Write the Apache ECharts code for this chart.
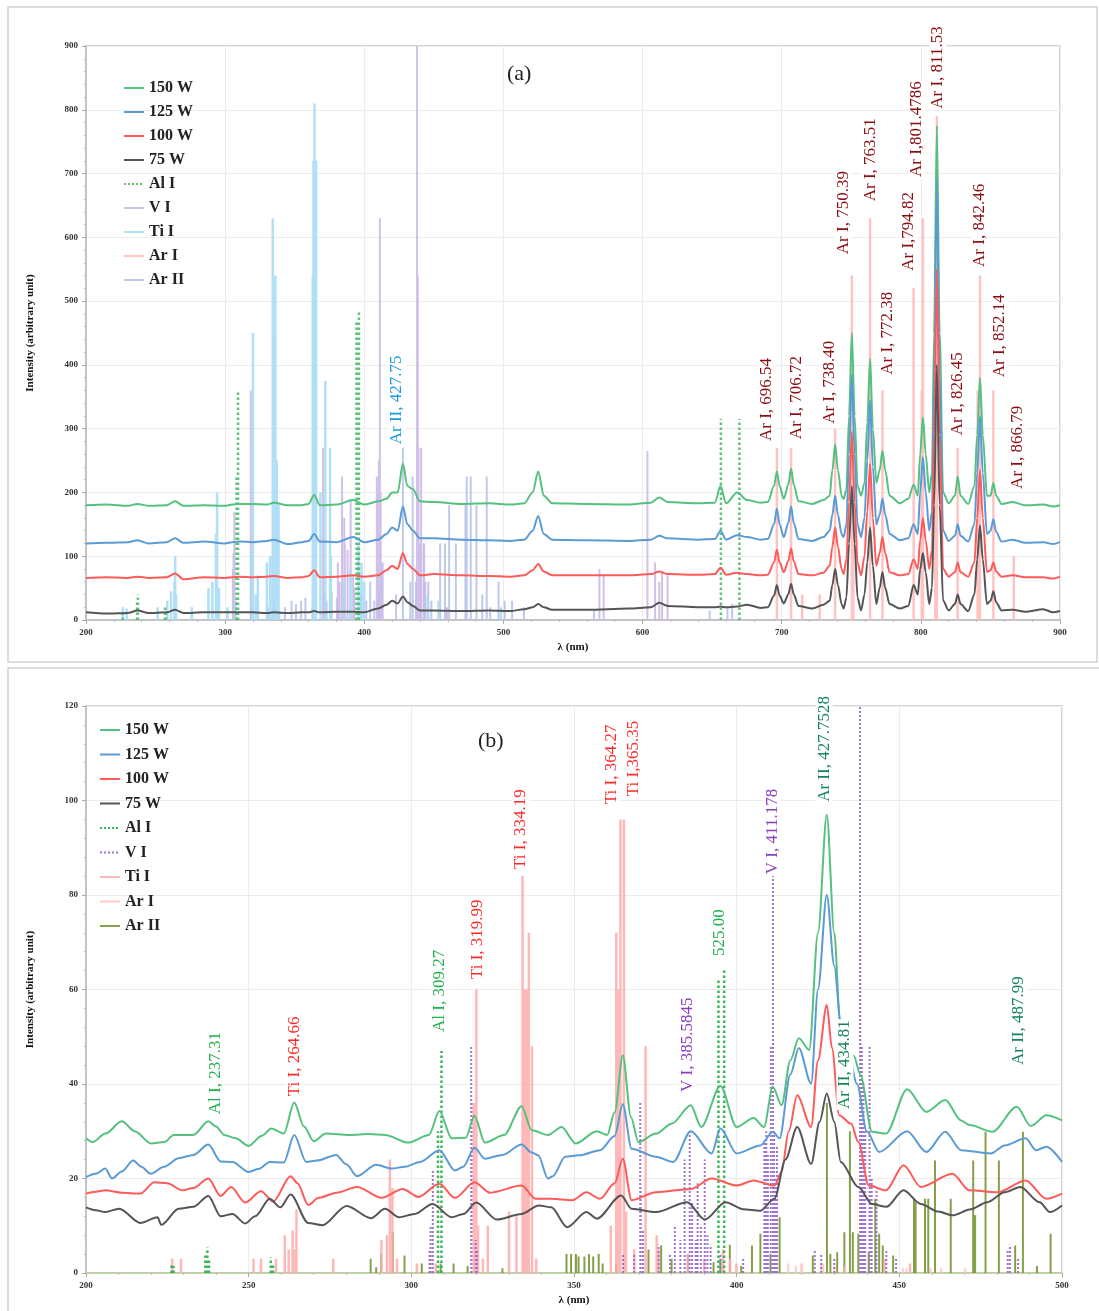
<!DOCTYPE html>
<html lang="en">
<head>
  <meta charset="UTF-8">
  <title>OES spectra</title>
  <style>
    body{ margin:0; background:#fff; }
    #main{ width:1099px; height:1311px; }
  </style>
</head>
<body>
  <div id="main"></div>
  <script src="https://cdn.jsdelivr.net/npm/echarts/dist/echarts.min.js"></script>
  <script>
// ---------- panel (a): 200-900 nm ----------
const wlA = [
  200, 215, 230, 237, 245, 258, 264, 270, 285, 300,
  305, 310, 320, 330, 335, 345, 355, 360, 364, 368,
  380, 392, 400, 410, 416, 420, 424, 427.75, 431, 435,
  440, 450, 470, 490, 505, 515, 521, 525, 529, 535,
  560, 590, 606, 612, 618, 640, 652, 656, 660, 668,
  675, 685, 690, 694.5, 696.5, 698.5, 701.5, 704.7, 706.7, 708.7,
  712, 722, 730, 734.5, 736.4, 738.4, 740.4, 743, 744.5, 746.5,
  748.4, 750.4, 752.4, 754.5, 757, 759.5, 761.5, 763.5, 765.5, 768,
  770.4, 772.4, 774.4, 777.5, 785, 791, 794.8, 797.8, 799.5, 801.5,
  803.5, 806, 808, 809.5, 811.5, 813.5, 816, 820, 824.5, 826.5,
  828.5, 834, 838.5, 840.5, 842.5, 844.5, 847.5, 850.1, 852.1, 854.1,
  858, 866, 875, 888, 895, 900
];
const a150 = [
  180, 181, 179, 182, 179, 180, 186, 179, 180, 179,
  181, 182, 182, 181, 184, 180, 180, 182, 196, 180,
  181, 188, 181, 186, 190, 200, 200, 245, 210, 205,
  186, 185, 182, 183, 181, 183, 200, 233, 195, 183,
  182, 181, 184, 192, 185, 183, 184, 210, 183, 200,
  188, 184, 185, 210, 233, 210, 190, 212, 237, 212,
  186, 182, 188, 195, 235, 275, 235, 195, 190, 205,
  320, 450, 320, 210, 195, 215, 310, 410, 300, 215,
  235, 265, 235, 195, 183, 190, 212, 195, 260, 318,
  260, 200, 230, 450, 775, 450, 200, 183, 195, 225,
  195, 182, 210, 290, 380, 290, 195, 195, 215, 195,
  182, 185, 180, 181, 178, 180
];
const a125 = [
  120, 121, 122, 125, 120, 122, 128, 121, 123, 120,
  122, 123, 122, 124, 126, 119, 122, 124, 135, 123,
  122, 130, 122, 126, 135, 145, 140, 178, 150, 140,
  128, 128, 126, 125, 124, 126, 140, 163, 135, 126,
  125, 124, 126, 132, 128, 126, 127, 140, 126, 133,
  130, 126, 127, 150, 175, 150, 130, 152, 178, 152,
  127, 124, 130, 140, 165, 195, 165, 135, 130, 150,
  260, 385, 260, 150, 130, 160, 250, 345, 240, 150,
  165, 190, 165, 135, 125, 128, 150, 135, 200, 255,
  200, 140, 170, 380, 690, 380, 140, 124, 132, 150,
  132, 123, 150, 230, 320, 230, 135, 140, 158, 138,
  123, 126, 121, 122, 119, 122
];
const a100 = [
  66, 67, 66, 68, 66, 67, 73, 64, 67, 66,
  67, 68, 67, 68, 69, 66, 67, 69, 78, 67,
  68, 70, 68, 70, 78, 85, 80, 105, 88, 80,
  70, 72, 70, 69, 68, 70, 78, 88, 76, 70,
  70, 70, 72, 76, 72, 71, 72, 82, 71, 74,
  72, 70, 71, 90, 110, 90, 75, 92, 112, 92,
  72, 70, 74, 85, 115, 145, 115, 80, 72, 95,
  185, 295, 185, 90, 70, 100, 170, 245, 160, 85,
  105, 130, 105, 75, 70, 72, 95, 80, 125, 160,
  125, 80, 110, 290, 550, 290, 80, 68, 75, 90,
  75, 68, 90, 160, 235, 160, 75, 78, 90, 76,
  68, 70, 67, 67, 65, 68
];
const a75 = [
  12, 10, 11, 15, 11, 12, 16, 11, 12, 12,
  12, 12, 12, 11, 12, 11, 12, 12, 14, 12,
  13, 13, 12, 18, 24, 30, 26, 37, 28, 22,
  15, 15, 14, 15, 14, 17, 20, 25, 20, 16,
  16, 18, 20, 27, 22, 20, 20, 21, 20, 21,
  24, 19, 20, 38, 55, 38, 26, 40, 57, 40,
  22, 18, 24, 30, 55, 80, 55, 25, 18, 35,
  120, 210, 120, 35, 15, 40, 90, 145, 85, 25,
  50, 75, 50, 25, 18, 22, 55, 40, 80, 105,
  75, 25, 50, 180, 400, 180, 30, 15, 25, 40,
  25, 14, 40, 95, 148, 95, 25, 30, 45, 28,
  15, 16, 13, 17, 12, 14
];

// reference lines, panel (a): [wavelength, height]
const alA = [[226.3,10],[236.7,30],[237.3,40],[256.8,20],[257.5,15],[308.2,225],[309.27,360],
  [394.4,470],[396.15,485],[656.3,315],[669.6,315]];
const vA = [[305.6,80],[306.0,105],[306.6,170],[318.4,360],[318.5,270],[370.4,270],[381,90],[382.3,60],
  [384,225],[385.6,160],[386,120],[388,110],[390.2,190],[392,70],[409,225],[409.6,200],[410.5,250],
  [411.18,630],[411.8,200],[412.3,90],[437.92,900],[438.47,540],[439,270],[440.85,270],[443,120],
  [446,60],[459.4,20],[569,80],[572,70],[603.5,265],[609,90],[612,60],[614,75],[618,70]];
const tiA = [[226.5,20],[229.2,18],[251.5,20],[258.4,30],[261.1,45],[263.5,60],[264.1,100],[264.7,40],
  [276,20],[288,50],[290.8,60],[293.4,135],[294.2,200],[295.6,50],[301.7,20],[307.5,30],[319.2,110],
  [319.99,450],[322,40],[323.5,70],[330,90],[332.3,100],[334.19,630],[334.9,450],[335.5,300],
  [336.1,540],[337.1,250],[338.4,180],[363,540],[363.5,720],[364.27,810],[365.35,720],[368.5,200],
  [372,375],[375.4,270],[376,100],[385,60],[390,80],[395.8,120],[398,90],[399.9,60],[445.5,40],
  [453.3,30],[498.2,20]];
const arA = [[696.54,270],[706.72,270],[714.7,40],[727.3,40],[738.4,300],[750.39,540],[751.47,270],
  [763.51,630],[772.38,360],[772.42,270],[794.82,520],[800.62,360],[801.48,630],[810.37,450],
  [811.53,790],[826.45,270],[840.82,360],[842.46,540],[852.14,360],[866.79,100]];
const arIIA = [[330.7,20],[335.1,25],[338.9,15],[343,20],[347.7,30],[350.9,25],[354.6,30],[357.7,35],
  [362.9,20],[371.8,40],[372.9,30],[376.5,45],[380.3,35],[385,45],[392.9,50],[397.9,40],[401.4,30],
  [404.3,60],[407.2,30],[410.4,45],[413.2,90],[422.8,40],[427.75,270],[433.1,60],[434.8,225],
  [437.1,60],[440.1,120],[442.6,120],[443.8,60],[448.2,30],[454.5,120],[458,120],[460.96,180],
  [465.8,120],[472.7,180],[473.6,225],[476.5,225],[480.6,180],[484.8,40],[487.99,225],[490.5,20],
  [496.5,60],[500.9,30],[506.2,30],[514.7,20],[565.1,15],[648.3,15],[661,20],[664.4,25]];

// ---------- panel (b): 200-500 nm ----------
const b150 = [[200,28.5],[202,27.7],[206,29.5],[211,32.1],[215,30],[220,27.4],[224,27.7],[227,29.2],
  [233,29.2],[237.6,32.1],[240,31],[242.5,29.2],[246,28.5],[250,26.9],[254,29],[257,30.6],[260.8,29.5],
  [264,36.1],[267,31],[270,27.9],[273.7,29.5],[281,29.2],[287,29.4],[292,29.2],[299,27.6],[305.4,29.2],
  [308.6,34.3],[312.4,28.5],[316.7,28.6],[319.4,33.3],[322.6,27.6],[328.5,29.2],[333.9,35.3],[337,30.2],
  [342,29.2],[346.2,30.9],[350.5,27.4],[357,30],[360.2,29.2],[362.5,34],[365,46.1],[367.5,33],
  [369.8,27.7],[375.2,29.5],[380,31.6],[385.9,35.5],[389.1,30.9],[395,39.6],[400,30.9],[405.2,32.8],
  [408.4,30.9],[411.1,39.4],[413.8,35.5],[416.5,45],[419.1,49.7],[422.3,47.2],[425,72],[427.7,97],
  [430,72],[431.8,53],[433.5,48],[436,46],[438,42],[441.6,29.9],[445.9,29.5],[452.4,38.9],[458.3,34.1],
  [464.1,36.6],[469,32.3],[471.6,31.3],[478.6,29.9],[486.1,35.2],[490.4,31.1],[495.2,33.4],[500,32.3]];
const b125 = [[200,20.3],[203,21],[205.9,22.1],[208,20],[211,21.5],[214.5,23.8],[217,22.5],[219.9,21],
  [224,22.5],[228.5,24.3],[233,25],[237.6,27.2],[241.4,23.6],[245,23.5],[250,21.4],[253,22],[256.5,23.5],
  [260.8,23.4],[264,29.2],[267.7,23.5],[271,23.8],[276.9,25],[280,23],[283.3,20.5],[289.2,22.9],[294,22.1],
  [298,22.5],[302.7,23.5],[308.6,26],[313.4,21.7],[316,22.5],[319.4,26.5],[322.6,24.2],[328,25],
  [333.9,27.2],[337,25.5],[339,24.9],[342,20],[343.5,20.5],[347.3,24.6],[351.6,24.9],[358,26],[362.5,29],
  [365,35.7],[367.7,26.3],[375.2,24.6],[380.5,23.5],[385.9,30],[392.3,25.3],[395,30.6],[400,25.3],
  [407.3,27],[411.1,29.9],[413.2,28.5],[416.5,42],[419.1,47.6],[422.9,40.1],[425,60],[427.7,80],[430,65],
  [432,53],[434,48],[437,40],[440,30],[443.8,25.6],[452.4,30],[458.3,25.6],[464.1,29.9],[469,26],
  [478.1,25.3],[482.4,27],[488.8,28.5],[492,26],[495.2,26.7],[500,23.5]];
const b100 = [[200,16.8],[203,17.2],[205.9,17.5],[211,17],[216.7,16.8],[221,19.2],[225,19],[229.6,17.5],
  [233,18],[237.6,20],[241.4,16.3],[244.6,18.2],[248.9,14.9],[253.8,17.3],[257.5,15.1],[262.9,20.5],
  [265,19],[268.3,14.4],[271.5,15.9],[277,17],[283.3,18.2],[290.9,15.9],[297.3,17.8],[302.2,16.1],
  [308.6,18.9],[313.4,15.9],[319.4,19.2],[324.2,17],[333.9,18.5],[338.2,15.7],[343,15.7],[349.5,15.4],
  [353.8,17.1],[358,15.7],[362.5,19],[365,24.2],[367.7,15.4],[375.2,17.1],[385.9,17.8],[392.3,20],
  [400,18.5],[405.2,19.6],[411.6,18.5],[413.8,21.4],[416,30],[418.6,37.6],[422.9,30.9],[425,45],
  [427.7,56.7],[429.3,47.6],[431.5,33.4],[435.2,31.6],[437.4,27.7],[440.6,18.5],[445.9,17.5],
  [451.3,22.8],[456.6,18.2],[466.3,21],[471.6,17.5],[480.2,17.1],[488.8,19.6],[495.2,15.7],[500,16.8]];
const b75 = [[200,13.9],[203,13.3],[205.9,12.9],[210.2,13.6],[216.7,10.6],[222,11.8],[223.1,10.2],
  [228.5,13.6],[233,14],[237.6,16.3],[241.4,12],[245,12.5],[248.9,10.5],[252,12],[256.5,15.7],
  [259.7,13.9],[262.9,16.6],[268.3,10.6],[272.6,10.1],[280.1,14.2],[287.6,11.6],[291.9,13.6],
  [296.2,11.8],[301,12.5],[306.5,14.6],[312.4,11.8],[316,12.5],[319.9,14.9],[326.3,11.3],[333.9,12.5],
  [339.2,14.3],[343,13.9],[347.9,9.7],[353.8,12.9],[357,11.5],[364.5,16.4],[367.7,13.6],[375.2,12.9],
  [384.8,15],[390.2,11.3],[396.6,15],[402,13.5],[407.3,13.2],[411.6,15.7],[415,24],[418.6,30.9],
  [422.9,23.1],[425.5,32],[427.7,38],[430,32],[432,23.5],[437.4,18.2],[441.6,14.6],[446,14],
  [451.3,17.5],[456.6,14.6],[462,13],[466.3,12.2],[472,13.5],[477,15],[482.4,17.1],[487.2,18.2],
  [493.1,15],[496.3,12.9],[500,14.3]];

const alB = [[226.3,2],[226.9,1.5],[236.7,4],[237.3,5.4],[237.8,3],[256.8,3.3],[257.5,2],[308.2,30],
  [309.27,47],[394.4,62],[396.15,64]];
const vB = [[305.6,5],[305.9,10],[306.6,22],[318.4,48],[318.5,36],[319.8,7],[320.2,5],[365.1,4],[368.5,4],
  [370.36,36],[370.5,18],[371.2,9],[376,6],[379.5,4],[381,10],[382.7,7],[384,24],[385.58,30],[386.3,15],
  [387.4,7],[388,19],[389,10],[390.2,24],[391,8],[392,6],[395,4],[402,3],[408.5,28],[409.1,30],
  [409.6,25],[410.5,48],[411.18,84],[411.5,30],[411.9,20],[412.4,27],[424,5],[426,4],[430,3],
  [437.92,120],[438.0,72],[438.47,48],[439,40],[439.5,30],[440.85,48],[441.5,20],[443,17.5],[446,5],
  [449,3],[483.3,5],[484,6],[486.5,3]];
const tiB = [[226.5,3],[229.2,3],[251.5,3],[253.8,3],[258.4,3],[261.1,8],[262.3,5],[263.5,9],[264.1,5],
  [264.7,13.5],[276,3],[290.8,7],[292.5,8],[293.4,24],[294.2,18],[295.6,3],[301.7,2],[307.5,2],
  [319.2,36],[319.99,60],[320.5,10],[322,3],[323.5,10],[330,13],[332.3,12],[334.19,84],[334.9,60],
  [335.5,60],[336.1,72],[337.1,48],[338.4,3],[361.3,10],[363,72],[363.5,60],[364.27,96],[365.35,96],
  [366,13],[368.5,5],[372,48],[375.4,8],[376,5],[385,4],[390,3],[395.8,5],[398,3],[399.9,2],
  [445.5,3],[453.3,2]];
const arB = [[415.86,2],[418.19,1.5],[419.83,2],[420.07,2],[425.94,2],[426.63,2],[430.01,1.5],
  [433.36,1.5],[451.07,1],[452.23,1],[459.61,1],[462.84,1],[470.23,1]];
const arIIB = [[287.5,3],[289.2,1.2],[290.7,4],[294.3,8.6],[297.9,3.7],[303.2,2],[309,2],[313,2],
  [317.3,1.5],[328,1],[347.7,4],[349.1,4],[350.6,4],[351.4,3.5],[353.2,3.5],[354.6,4],[355.9,3.5],
  [357.6,4],[358.8,2],[362.9,2],[372.9,5],[376.8,5.8],[380,3],[385,4],[392.9,2.3],[395,3],[397.9,6],
  [401.4,1.5],[404.7,5.8],[407.3,8.3],[410.4,4],[413.2,11.8],[423.4,3.7],[427.75,36],[428.8,4],
  [430.9,4.4],[433.1,8.6],[434.81,30],[435.7,8.6],[437.4,8.3],[440.6,4.4],[442.6,15.7],[443.8,8.3],
  [444.9,5.8],[448.1,3.7],[454.5,15.7],[455,15],[457.9,15.7],[458.9,15.7],[460.96,23.8],[465.8,15.7],
  [472.7,23.8],[473.3,12.2],[476.5,29.9],[480.6,23.8],[485.6,5.8],[487.99,29.9],[492.3,1.5],[496.5,8.3]];

// peak labels: [text, x, y(bottom of text), kind]
const annA = [
  ['Ar II, 427.75', 423.5, 274, 'arII'],
  ['Ar I, 696.54', 689.4, 279, 'arI'],
  ['Ar I, 706.72', 711, 282, 'arI'],
  ['Ar I, 738.40', 734.7, 306, 'arI'],
  ['Ar I, 750.39', 744.1, 572, 'arI'],
  ['Ar I, 763.51', 763.5, 655, 'arI'],
  ['Ar I, 772.38', 776.4, 383, 'arI'],
  ['Ar I,794.82', 790.8, 546, 'arI'],
  ['Ar I,801.4786', 797.2, 693, 'arI'],
  ['Ar I, 811.53', 812.3, 800, 'arI'],
  ['Ar I, 826.45', 826, 288, 'arI'],
  ['Ar I, 842.46', 842.5, 552, 'arI'],
  ['Ar I, 852.14', 856.9, 379, 'arI'],
  ['Ar I, 866.79', 869.8, 204, 'arI']
];
const annB = [
  ['Al I, 237.31', 239.7, 33.4, 'al'],
  ['Ti I, 264.66', 264.2, 37.2, 'ti'],
  ['Al I, 309.27', 308.8, 50.8, 'al'],
  ['Ti I, 319.99', 320.2, 62, 'ti'],
  ['Ti I, 334.19', 333.7, 85.3, 'ti'],
  ['Ti I, 364.27', 361.4, 99, 'ti'],
  ['Ti I,365.35', 368.2, 100.7, 'ti'],
  ['V I, 385.5845', 384.8, 38.1, 'v'],
  ['525.00', 394.6, 66.9, 'al'],
  ['V I, 411.178', 410.9, 84.2, 'v'],
  ['Ar II, 427.7528', 426.9, 99.5, 'arII'],
  ['Ar II, 434.81', 433.3, 34.5, 'arII'],
  ['Ar II, 487.99', 486.5, 43.8, 'arII']
];

const labelColorA = { arI: '#8a0f12', arII: '#1d9be0' };
const labelColorB = { al: '#22b14c', ti: '#ff2a2a', v: '#8b3fbf', arII: '#14875a' };

const SERIF = '"Liberation Serif", "DejaVu Serif", serif';

// turn [x, h] pairs into vertical segments for a line series
function sticks(list) {
  const out = [];
  list.forEach(([x, h]) => { out.push([x, 0], [x, h], [x, '-']); });
  return out;
}
function stickSeries(name, list, gi, color, width, type, opacity) {
  return {
    name: name, type: 'line', xAxisIndex: gi, yAxisIndex: gi,
    data: sticks(list), symbol: 'none', connectNulls: false, silent: true,
    lineStyle: { color: color, width: width, type: type, opacity: opacity },
    itemStyle: { color: color }, z: 1, animation: false
  };
}
function curve(name, data, gi, color) {
  return {
    name: name, type: 'line', xAxisIndex: gi, yAxisIndex: gi,
    data: data, symbol: 'none', smooth: 0.3, smoothMonotone: 'x',
    lineStyle: { color: color, width: 2 }, itemStyle: { color: color },
    z: 3, animation: false
  };
}
function labels(list, gi, colors) {
  return {
    type: 'custom', xAxisIndex: gi, yAxisIndex: gi, z: 5, silent: true, animation: false,
    data: list.map(d => [d[1], d[2]]),
    renderItem: (params, api) => {
      const p = api.coord([api.value(0), api.value(1)]);
      const d = list[params.dataIndex];
      return {
        type: 'text', x: p[0], y: p[1], rotation: Math.PI / 2,
        style: {
          text: d[0], fill: colors[d[3]], font: '17px ' + SERIF,
          align: 'left', verticalAlign: 'middle',
          backgroundColor: '#fff', padding: [0, 1]
        }
      };
    }
  };
}
const AX_LABEL = { fontFamily: SERIF, fontWeight: 'bold', fontSize: 9, color: '#333' };
const NAME_STYLE = { fontFamily: SERIF, fontWeight: 'bold', fontSize: 11, color: '#111' };
function xAxis(gi, min, max, step, lineColor) {
  return {
    type: 'value', gridIndex: gi, min: min, max: max, interval: step,
    name: 'λ (nm)', nameLocation: 'middle', nameGap: 22, nameTextStyle: NAME_STYLE,
    axisLine: { lineStyle: { color: lineColor, width: 1.5 } },
    axisTick: { length: 4, lineStyle: { color: '#aaa' } },
    minorTick: { show: true, splitNumber: 5, length: 2, lineStyle: { color: '#bbb' } },
    axisLabel: AX_LABEL,
    splitLine: { show: true, lineStyle: { color: '#ececec' } }
  };
}
function yAxis(gi, max, step) {
  return {
    type: 'value', gridIndex: gi, min: 0, max: max, interval: step,
    name: 'Intensity (arbitrary unit)', nameLocation: 'middle', nameGap: 50, nameTextStyle: NAME_STYLE,
    axisLine: { show: true, lineStyle: { color: '#bbb', width: 1.5 } },
    axisTick: { show: true, length: 4, lineStyle: { color: '#aaa' } },
    minorTick: { show: true, splitNumber: 5, length: 2, lineStyle: { color: '#bbb' } },
    axisLabel: AX_LABEL,
    splitLine: { show: true, lineStyle: { color: '#ececec' } }
  };
}

const C150 = '#55c17f', C125 = '#5b9bd5', C100 = '#ff5a5a', C75 = '#555555';
const LEGEND_TEXT = { fontFamily: SERIF, fontWeight: 'bold', fontSize: 16, color: '#222' };
// hide the symbol that ECharts puts on line legend icons, keep the line only
const NO_SYMBOL = { opacity: 0, color: 'transparent', borderColor: 'transparent', borderWidth: 0 };

const chart = echarts.init(document.getElementById('main'));
chart.setOption({
  animation: false,
  title: [
    { text: '(a)', left: 502, top: 58, textStyle: { fontFamily: SERIF, fontSize: 22, fontWeight: 'normal', color: '#222' } },
    { text: '(b)', left: 473, top: 725, textStyle: { fontFamily: SERIF, fontSize: 22, fontWeight: 'normal', color: '#222' } }
  ],
  graphic: [
    { type: 'rect', shape: { x: 8, y: 7, width: 1089, height: 655 }, style: { fill: 'none', stroke: '#d2d2d2', lineWidth: 1.5 }, silent: true, z: -10 },
    { type: 'rect', shape: { x: 8, y: 668, width: 1092, height: 650 }, style: { fill: 'none', stroke: '#d2d2d2', lineWidth: 1.5 }, silent: true, z: -10 }
  ],
  grid: [
    { left: 86, top: 46, width: 974, height: 574, show: true, borderColor: '#c8c8c8', borderWidth: 1.5 },
    { left: 86, top: 706, width: 976, height: 567, show: true, borderColor: '#c8c8c8', borderWidth: 1.5 }
  ],
  legend: [
    {
      data: ['150 W', '125 W', '100 W', '75 W', 'Al I', 'V I', 'Ti I', 'Ar I', 'Ar II'],
      orient: 'vertical', left: 118, top: 75, itemWidth: 20, itemHeight: 14, itemGap: 8,
      itemStyle: NO_SYMBOL, textStyle: LEGEND_TEXT
    },
    {
      data: ['150 W (b)', '125 W (b)', '100 W (b)', '75 W (b)', 'Al I (b)', 'V I (b)', 'Ti I (b)', 'Ar I (b)', 'Ar II (b)'],
      formatter: n => n.replace(' (b)', ''),
      orient: 'vertical', left: 94, top: 717, itemWidth: 20, itemHeight: 14, itemGap: 8.5,
      itemStyle: NO_SYMBOL, textStyle: LEGEND_TEXT
    }
  ],
  xAxis: [ xAxis(0, 200, 900, 100, '#bbb'), xAxis(1, 200, 500, 50, '#b8cc98') ],
  yAxis: [ yAxis(0, 900, 100), yAxis(1, 120, 20) ],
  series: [
    stickSeries('Ar II', arIIA, 0, '#b9c3ea', 2, 'solid', 0.9),
    stickSeries('V I', vA, 0, '#cdb9e6', 2, 'solid', 0.9),
    stickSeries('Ti I', tiA, 0, '#a9dbf4', 2.5, 'solid', 0.9),
    stickSeries('Ar I', arA, 0, '#ffbdbd', 2.5, 'solid', 0.9),
    stickSeries('Al I', alA, 0, '#49bd6c', 2.5, 'dotted', 0.9),
    curve('150 W', wlA.map((x, i) => [x, a150[i]]), 0, C150),
    curve('125 W', wlA.map((x, i) => [x, a125[i]]), 0, C125),
    curve('100 W', wlA.map((x, i) => [x, a100[i]]), 0, C100),
    curve('75 W', wlA.map((x, i) => [x, a75[i]]), 0, C75),
    labels(annA, 0, labelColorA),

    stickSeries('Ar II (b)', arIIB, 1, '#7d9b3f', 2, 'solid', 0.95),
    stickSeries('Ar I (b)', arB, 1, '#ffc4c4', 2, 'solid', 0.9),
    stickSeries('Ti I (b)', tiB, 1, '#ffabab', 2.5, 'solid', 0.85),
    stickSeries('V I (b)', vB, 1, '#9a6ccf', 2, 'dotted', 0.95),
    stickSeries('Al I (b)', alB, 1, '#2fb24f', 2.5, 'dotted', 0.95),
    curve('150 W (b)', b150, 1, C150),
    curve('125 W (b)', b125, 1, C125),
    curve('100 W (b)', b100, 1, C100),
    curve('75 W (b)', b75, 1, C75),
    labels(annB, 1, labelColorB)
  ]
});
  </script>
</body>
</html>
